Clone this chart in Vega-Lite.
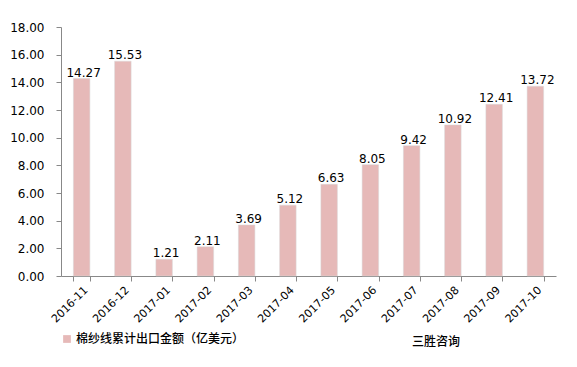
{
  "$schema": "https://vega.github.io/schema/vega-lite/v6.json",
  "width": 495,
  "height": 249,
  "autosize": "none",
  "padding": {"left": 61, "top": 27, "right": 21, "bottom": 91},
  "background": "white",
  "data": {
    "values": [
      {"month": "2016-11", "value": 14.27, "series": "棉纱线累计出口金额（亿美元）"},
      {"month": "2016-12", "value": 15.53, "series": "棉纱线累计出口金额（亿美元）"},
      {"month": "2017-01", "value": 1.21, "series": "棉纱线累计出口金额（亿美元）"},
      {"month": "2017-02", "value": 2.11, "series": "棉纱线累计出口金额（亿美元）"},
      {"month": "2017-03", "value": 3.69, "series": "棉纱线累计出口金额（亿美元）"},
      {"month": "2017-04", "value": 5.12, "series": "棉纱线累计出口金额（亿美元）"},
      {"month": "2017-05", "value": 6.63, "series": "棉纱线累计出口金额（亿美元）"},
      {"month": "2017-06", "value": 8.05, "series": "棉纱线累计出口金额（亿美元）"},
      {"month": "2017-07", "value": 9.42, "series": "棉纱线累计出口金额（亿美元）"},
      {"month": "2017-08", "value": 10.92, "series": "棉纱线累计出口金额（亿美元）"},
      {"month": "2017-09", "value": 12.41, "series": "棉纱线累计出口金额（亿美元）"},
      {"month": "2017-10", "value": 13.72, "series": "棉纱线累计出口金额（亿美元）"}
    ]
  },
  "title": {
    "text": "三胜咨询",
    "orient": "bottom",
    "anchor": "end",
    "dx": -96,
    "offset": -8,
    "font": "Noto Sans CJK SC",
    "fontSize": 12,
    "fontWeight": 500,
    "color": "#000000"
  },
  "encoding": {
    "x": {
      "field": "month",
      "type": "ordinal",
      "scale": {"paddingInner": 0.6, "paddingOuter": 0.3},
      "axis": {
        "title": null,
        "labelAngle": -45,
        "labelFont": "DejaVu Sans",
        "labelFontSize": 11,
        "labelColor": "#000000",
        "domainColor": "#888888",
        "tickColor": "#888888",
        "tickBand": "extent",
        "tickSize": 5,
        "labelPadding": 3
      }
    },
    "y": {
      "field": "value",
      "type": "quantitative",
      "scale": {"domain": [0, 18], "nice": false},
      "axis": {
        "title": null,
        "values": [0, 2, 4, 6, 8, 10, 12, 14, 16, 18],
        "format": ".2f",
        "grid": false,
        "labelFont": "DejaVu Sans",
        "labelFontSize": 12,
        "labelColor": "#000000",
        "domainColor": "#888888",
        "tickColor": "#888888",
        "tickSize": 5,
        "labelPadding": 12
      }
    }
  },
  "layer": [
    {
      "mark": {"type": "bar", "stroke": "#d9d9d9", "strokeWidth": 0.5},
      "encoding": {
        "color": {
          "field": "series",
          "type": "nominal",
          "scale": {"range": ["#e6b9b8"]},
          "legend": {
            "title": null,
            "orient": "none",
            "legendX": 0,
            "legendY": 306,
            "symbolType": "square",
            "symbolSize": 60,
            "symbolStrokeWidth": 0,
            "labelOffset": 3,
            "labelFont": "Noto Sans CJK SC",
            "labelFontSize": 12,
            "labelFontWeight": 500,
            "labelColor": "#000000",
            "labelLimit": 300
          }
        }
      }
    },
    {
      "mark": {"type": "text", "baseline": "bottom", "dy": 1, "dx": 2, "font": "DejaVu Sans", "fontSize": 12, "color": "#000000"},
      "encoding": {
        "text": {"field": "value", "type": "quantitative", "format": ".2f"}
      }
    }
  ],
  "config": {
    "view": {"stroke": null}
  }
}
